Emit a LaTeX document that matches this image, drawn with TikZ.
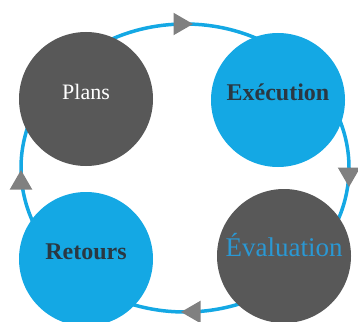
\documentclass[tikz,border=0pt]{standalone}
\usepackage{fontspec}
\setmainfont{Liberation Serif}
\usetikzlibrary{shapes, positioning}

\definecolor{ringblue}{RGB}{20,168,228}
\definecolor{stagegray}{RGB}{88,88,88}
\definecolor{arrowgray}{RGB}{128,128,128}
\definecolor{labeldark}{RGB}{42,56,66}
\definecolor{labelblue}{RGB}{42,152,212}

\begin{document}
\begin{tikzpicture}[x=1pt, y=-1pt,
    stage/.style={circle, minimum size=134pt, inner sep=0pt, text height=0pt, text depth=0pt},
    tri/.style={regular polygon, regular polygon sides=3, fill=arrowgray, minimum size=26pt, inner sep=0pt}]
    \useasboundingbox (0,0) rectangle (358,321);
    \clip (0,0) rectangle (358,321);

    % the cycle
    \draw[ringblue, line width=3.5pt] (185,168) ellipse [x radius=164, y radius=144];

    \node[stage, fill=stagegray, text=white, font=\fontsize{22}{24}\selectfont] (plans) at (86,99) {Plans};
    \node[stage, fill=ringblue, text=labeldark, font=\fontsize{24}{26}\selectfont\bfseries] (exec) at (278,100) {Exécution};
    \node[stage, fill=stagegray, text=labelblue, font=\fontsize{27}{29}\selectfont] (eval) at (284,256) {Évaluation};
    \node[stage, fill=ringblue, text=labeldark, font=\fontsize{24}{26}\selectfont\bfseries] (retours) at (86,259) {Retours};

    % arrow heads on the ring
    \node[tri, regular polygon rotate=-90] (top) at (180,24) {};
    \node[tri, regular polygon rotate=180] (right) at (349,174) {};
    \node[tri, regular polygon rotate=90] (bottom) at (194,312) {};
    \node[tri] (left) at (21,183) {};
\end{tikzpicture}
\end{document}
